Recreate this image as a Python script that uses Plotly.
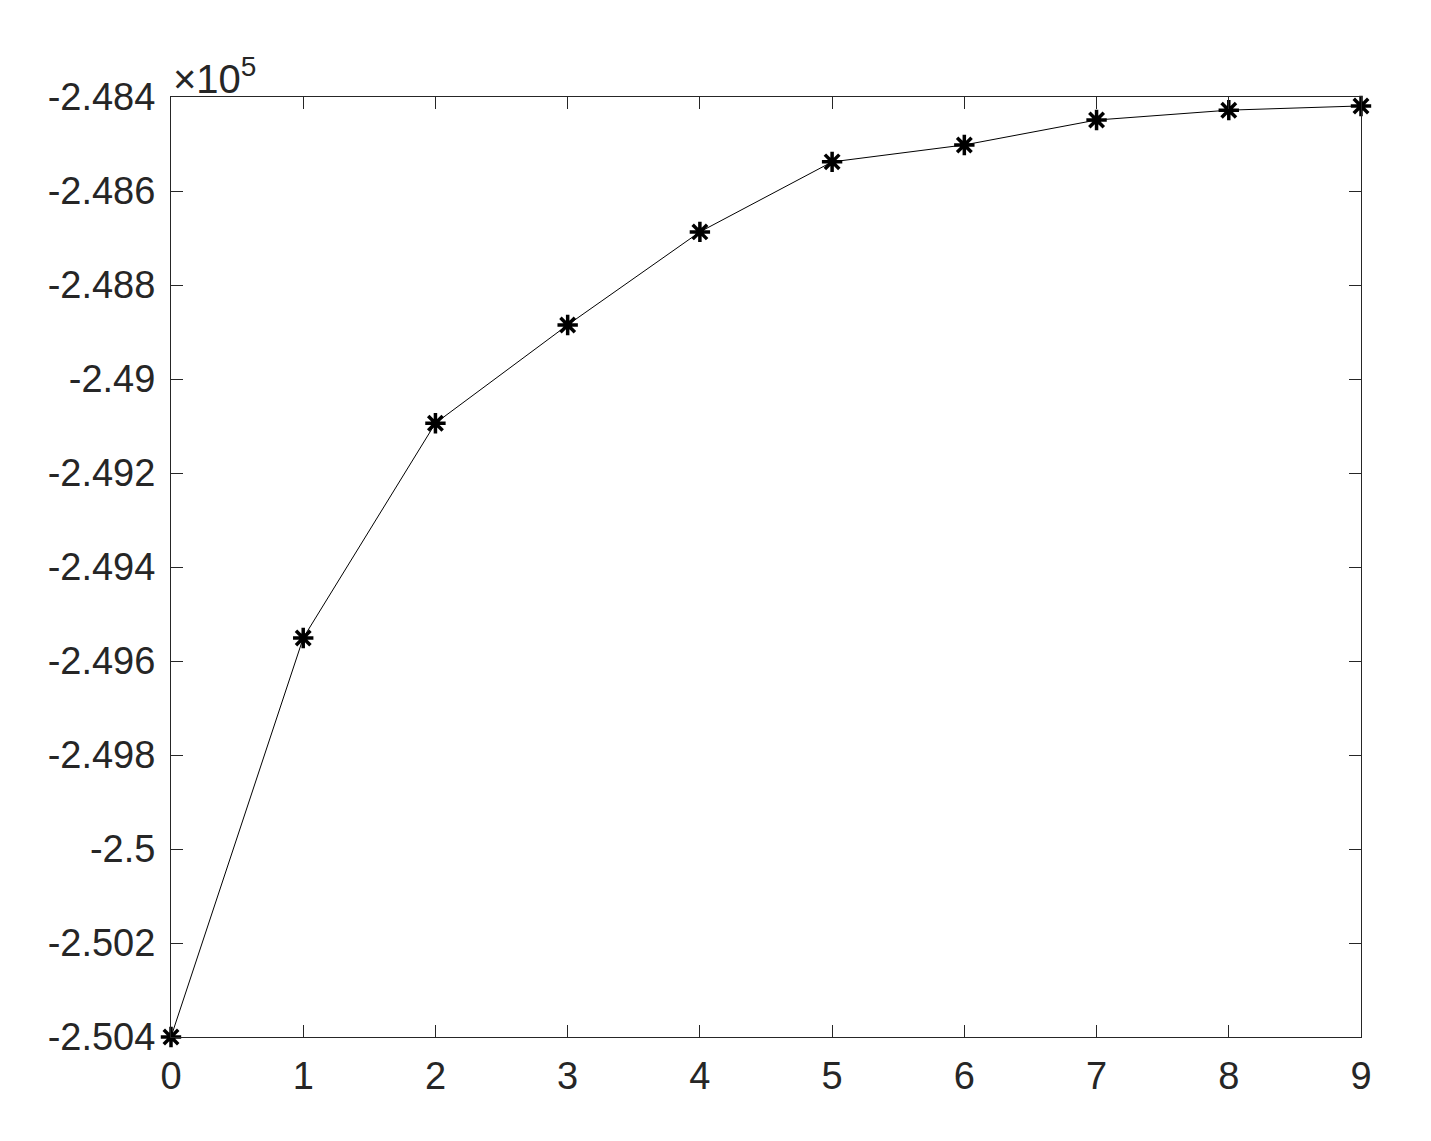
import plotly.graph_objects as go

iterations = [0, 1, 2, 3, 4, 5, 6, 7, 8, 9]
objective = [-250400, -249551, -249094, -248885, -248687, -248538, -248502, -248449, -248428, -248419]

y_tickvals = [-248400, -248600, -248800, -249000, -249200, -249400, -249600,
              -249800, -250000, -250200, -250400]
y_ticktext = ["-2.484", "-2.486", "-2.488", "-2.49", "-2.492", "-2.494", "-2.496",
              "-2.498", "-2.5", "-2.502", "-2.504"]
x_tickvals = iterations

font = dict(family="Liberation Sans, Arial, sans-serif", size=38, color="#262626")

fig = go.Figure()
fig.add_trace(go.Scatter(
    x=iterations, y=objective,
    mode="lines+markers",
    line=dict(color="black", width=1),
    marker=dict(symbol="asterisk-open", size=17, color="black",
                line=dict(color="black", width=3.5)),
    showlegend=False,
    cliponaxis=False,
))

axis_common = dict(
    showgrid=False, zeroline=False,
    showline=True, linecolor="#262626", linewidth=1, mirror="ticks",
    ticks="inside", ticklen=12, tickcolor="#262626", tickwidth=1,
    tickfont=font,
)

fig.update_xaxes(range=[0, 9], tickvals=x_tickvals, ticklabelstandoff=5, **axis_common)
fig.update_yaxes(range=[-250400, -248400], tickvals=y_tickvals, ticktext=y_ticktext,
                 ticklabelstandoff=7, **axis_common)

# exponent label in the top-left corner
fig.add_annotation(
    text="×10<sup>5</sup>", xref="paper", yref="paper", x=0, y=1,
    xanchor="left", yanchor="bottom", showarrow=False,
    font=dict(family="Liberation Sans, Arial, sans-serif", size=40, color="#262626"),
    yshift=-6,
)

fig.update_layout(
    width=1431, height=1141,
    margin=dict(l=163, r=78, t=89, b=112),
    plot_bgcolor="white", paper_bgcolor="white",
)

fig.write_html("out.html")
